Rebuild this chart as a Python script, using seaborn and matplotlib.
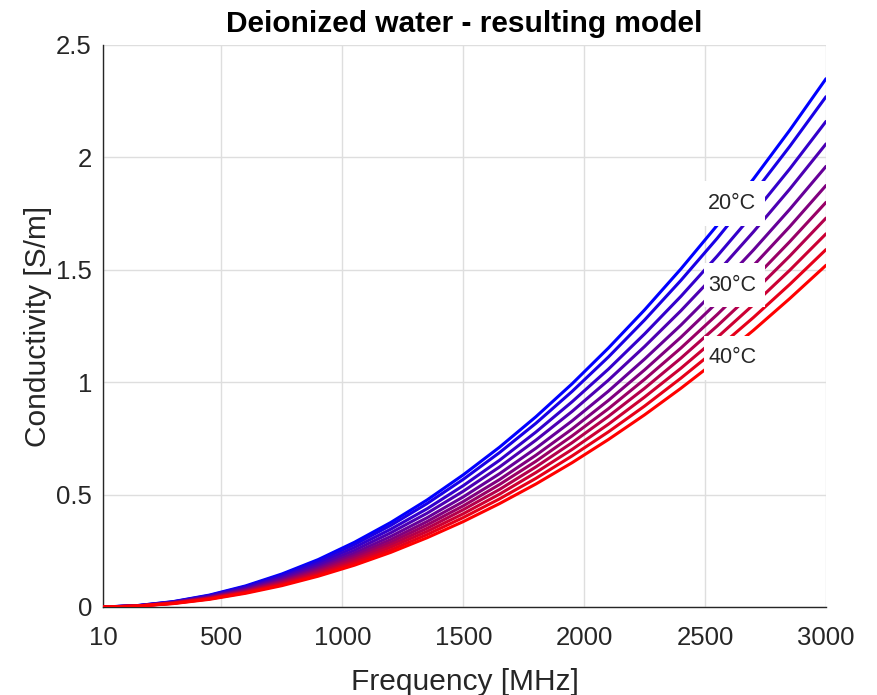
import numpy as np
import pandas as pd
import matplotlib
matplotlib.use("Agg")
import matplotlib.pyplot as plt
from matplotlib.patches import Rectangle
import seaborn as sns

# ---- data ----
frequency_mhz = [10, 150, 300, 450, 600, 750, 900, 1050, 1200, 1350, 1500,
                 1650, 1800, 1950, 2100, 2250, 2400, 2550, 2700, 2850, 3000]
temperatures_c = [20, 22, 24, 26, 28, 30, 32, 34, 36, 38, 40]
sigma_20 = [0.0, 0.006, 0.024, 0.053, 0.094, 0.147, 0.211, 0.288, 0.376, 0.476, 0.588,
            0.711, 0.846, 0.993, 1.152, 1.322, 1.504, 1.698, 1.904, 2.121, 2.35]
sigma_22 = [0.0, 0.006, 0.023, 0.051, 0.091, 0.142, 0.204, 0.278, 0.363, 0.460, 0.568,
            0.687, 0.817, 0.959, 1.112, 1.277, 1.453, 1.640, 1.839, 2.049, 2.27]
sigma_24 = [0.0, 0.005, 0.022, 0.049, 0.086, 0.135, 0.194, 0.265, 0.346, 0.437, 0.540,
            0.653, 0.778, 0.913, 1.058, 1.215, 1.382, 1.561, 1.750, 1.949, 2.16]
sigma_26 = [0.0, 0.005, 0.021, 0.046, 0.082, 0.129, 0.185, 0.252, 0.330, 0.417, 0.515,
            0.623, 0.742, 0.870, 1.009, 1.159, 1.318, 1.488, 1.669, 1.859, 2.06]
sigma_28 = [0.0, 0.005, 0.020, 0.044, 0.078, 0.123, 0.176, 0.240, 0.314, 0.397, 0.490,
            0.593, 0.706, 0.828, 0.960, 1.103, 1.254, 1.416, 1.588, 1.769, 1.96]
sigma_30 = [0.0, 0.005, 0.019, 0.042, 0.075, 0.117, 0.169, 0.230, 0.300, 0.380, 0.469,
            0.567, 0.675, 0.792, 0.919, 1.055, 1.200, 1.355, 1.519, 1.692, 1.875]
sigma_32 = [0.0, 0.004, 0.018, 0.041, 0.072, 0.113, 0.162, 0.221, 0.288, 0.365, 0.450,
            0.545, 0.648, 0.761, 0.882, 1.013, 1.152, 1.301, 1.458, 1.625, 1.80]
sigma_34 = [0.0, 0.004, 0.017, 0.039, 0.069, 0.108, 0.156, 0.212, 0.277, 0.350, 0.433,
            0.523, 0.623, 0.731, 0.848, 0.973, 1.107, 1.250, 1.401, 1.561, 1.73]
sigma_36 = [0.0, 0.004, 0.017, 0.037, 0.066, 0.104, 0.149, 0.203, 0.266, 0.336, 0.415,
            0.502, 0.598, 0.701, 0.813, 0.934, 1.062, 1.199, 1.345, 1.498, 1.66]
sigma_38 = [0.0, 0.004, 0.016, 0.036, 0.064, 0.099, 0.143, 0.195, 0.254, 0.322, 0.398,
            0.481, 0.572, 0.672, 0.779, 0.894, 1.018, 1.149, 1.288, 1.435, 1.59]
sigma_40 = [0.0, 0.004, 0.015, 0.034, 0.061, 0.095, 0.137, 0.186, 0.243, 0.308, 0.380,
            0.460, 0.547, 0.642, 0.745, 0.855, 0.973, 1.098, 1.231, 1.372, 1.52]
series = [sigma_20, sigma_22, sigma_24, sigma_26, sigma_28, sigma_30,
          sigma_32, sigma_34, sigma_36, sigma_38, sigma_40]

x_ticks = [10, 500, 1000, 1500, 2000, 2500, 3000]
y_ticks = [0, 0.5, 1, 1.5, 2, 2.5]
y_tick_labels = ["0", "0.5", "1", "1.5", "2", "2.5"]

label_texts = ["20°C", "30°C", "40°C"]
label_x = [2622, 2622, 2622]
label_y = [1.795, 1.432, 1.108]

title = "Deionized water - resulting model"
xlabel = "Frequency [MHz]"
ylabel = "Conductivity [S/m]"

rows = []
for t, vals in zip(temperatures_c, series):
    for f, v in zip(frequency_mhz, vals):
        rows.append({"Frequency": f, "Conductivity": v, "T": t})
df = pd.DataFrame(rows)

# ---- style ----
sns.set_style("white")
plt.rcParams["font.family"] = ["Liberation Sans", "DejaVu Sans"]
text_color = "#262626"

fig = plt.figure(figsize=(8.77, 6.95), dpi=100)
ax = fig.add_axes([103 / 877, (695 - 607) / 695, 723 / 877, 562 / 695])

palette = sns.blend_palette(["#0000ff", "#ff0000"], len(temperatures_c))
sns.lineplot(data=df, x="Frequency", y="Conductivity", hue="T",
             palette=palette, linewidth=2.2, legend=False, ax=ax, zorder=3)

ax.set_xlim(10, 3000)
ax.set_ylim(0, 2.5)
ax.set_xticks(x_ticks)
ax.set_xticklabels([str(v) for v in x_ticks])
ax.set_yticks(y_ticks)
ax.set_yticklabels(y_tick_labels)

ax.grid(True, color="#dedede", linewidth=1.0, zorder=0)
ax.set_axisbelow(True)
for s in ["top", "right"]:
    ax.spines[s].set_visible(False)
for s in ["left", "bottom"]:
    ax.spines[s].set_color(text_color)
    ax.spines[s].set_linewidth(1.0)

ax.tick_params(axis="both", direction="in", length=5, width=1.0,
               colors=text_color, labelsize=18.5)
ax.tick_params(axis="x", pad=14)
ax.tick_params(axis="y", pad=8)

ax.set_xlabel(xlabel, fontsize=21.5, color=text_color, labelpad=13)
ax.set_ylabel(ylabel, fontsize=21.5, color=text_color, labelpad=3)
ax.set_title(title, fontsize=21.5, fontweight="bold", color="black", pad=9)

box_w = 250
box_h = 0.196
for txt, lx, ly in zip(label_texts, label_x, label_y):
    ax.add_patch(Rectangle((lx - box_w / 2, ly - box_h / 2), box_w, box_h,
                           facecolor="white", edgecolor="none", zorder=5))
    ax.text(lx - 10, ly, txt, fontsize=15.5, color=text_color,
            ha="center", va="center", zorder=6)

fig.savefig("out.png", dpi=100)
